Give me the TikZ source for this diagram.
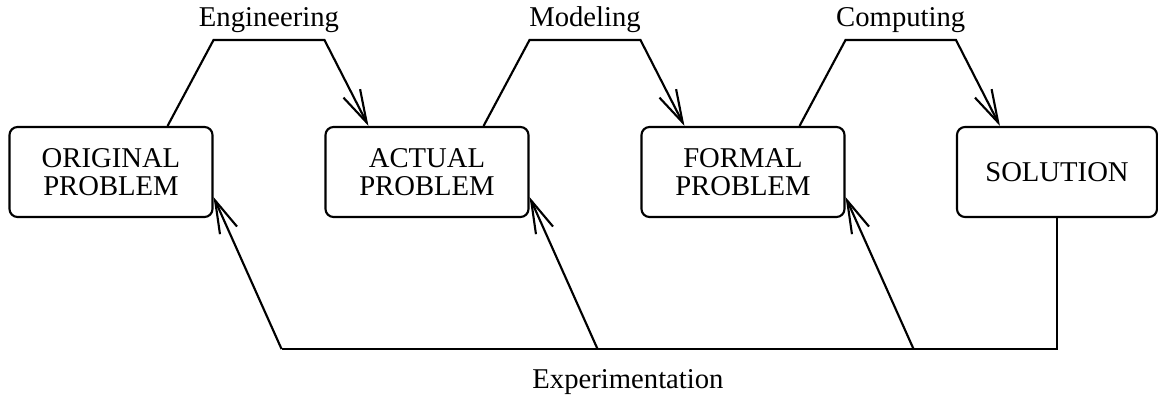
\documentclass[tikz,border=0pt]{standalone}
\usepackage{fontspec}
\setmainfont{Liberation Serif}
\usetikzlibrary{arrows.meta,calc}

\begin{document}
\begin{tikzpicture}[x=0.75pt,y=0.75pt,yscale=-1,xscale=1,
  stage/.style={draw, rounded corners=6pt, line width=1.6pt, minimum width=152.25pt, minimum height=67.5pt, align=center, inner sep=0pt, font=\fontsize{21.5}{21}\selectfont},
  link/.style={line width=1.6pt, line join=miter},
  flow/.style={link, -{Straight Barb[length=24.5pt,width=14pt]}},
  lbl/.style={anchor=base, inner sep=0pt, font=\fontsize{21.5}{21}\selectfont}]
\useasboundingbox (0,0) rectangle (1158,397);

% Stages
\node [stage] (orig) at (111,172) {ORIGINAL\\PROBLEM};
\node [stage] (act) at (427,172) {ACTUAL\\PROBLEM};
\node [stage] (form) at (743,172) {FORMAL\\PROBLEM};
\node [stage, minimum width=150pt] (sol) at (1057,172) {SOLUTION};

% Upper links
\draw [flow] ($(orig.north east)+(-46,0)$) -- ($(orig.north east)+(0,-86)$) -- ($(act.north west)+(0,-86)$) -- ($(act.north west)+(44,0)$);
\draw [flow] ($(act.north east)+(-46,0)$) -- ($(act.north east)+(0,-86)$) -- ($(form.north west)+(0,-86)$) -- ($(form.north west)+(44,0)$);
\draw [flow] ($(form.north east)+(-46,0)$) -- ($(form.north east)+(0,-86)$) -- ($(sol.north west)+(0,-86)$) -- ($(sol.north west)+(44,0)$);

% Text Node
\node [lbl] (eng) at ($(orig.north east)!0.5!(act.north west)+(0,-99)$) {Engineering};
\node [lbl] (mod) at ($(act.north east)!0.5!(form.north west)+(0,-99)$) {Modeling};
\node [lbl] (comp) at ($(form.north east)!0.5!(sol.north west)+(0,-99)$) {Computing};

% Lower links
\coordinate (bR) at ($(sol.south)+(0,131)$);
\coordinate (bL) at ($(orig.south east)+(68,131)$);
\draw [link] (sol.south) -- (bR) -- (bL);
\draw [flow] (bL) -- ($(orig.east)+(0,25)$);
\draw [flow] ($(act.south east)+(68,131)$) -- ($(act.east)+(0,25)$);
\draw [flow] ($(form.south east)+(68,131)$) -- ($(form.east)+(0,25)$);

% Text Node
\node [lbl] (exp) at ($(act.south)+(201,170)$) {Experimentation};

\end{tikzpicture}
\end{document}
